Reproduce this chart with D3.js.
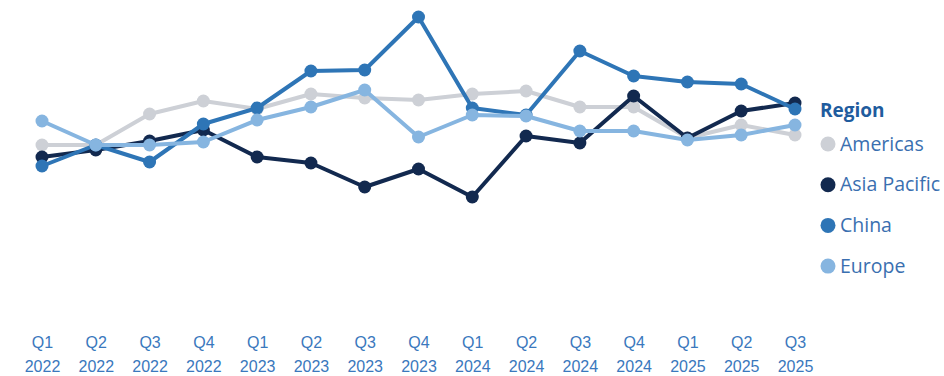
<!DOCTYPE html>
<html><head><meta charset="utf-8">
<script src="https://cdn.jsdelivr.net/npm/d3@7"></script>
<style>body{margin:0;background:#fff;} svg{display:block;font-family:"Open Sans","Noto Sans",sans-serif;}</style>
</head><body>
<svg id="c" width="944" height="376"></svg>
<script>
const quarters = ["Q1","Q2","Q3","Q4","Q1","Q2","Q3","Q4","Q1","Q2","Q3","Q4","Q1","Q2","Q3"];
const years = ["2022","2022","2022","2022","2023","2023","2023","2023","2024","2024","2024","2024","2025","2025","2025"];
const regions = ["Americas","Asia Pacific","China","Europe"];
const americas = [155,155,186,199,191,206,202,200,206,209,193,193,162,175,165];
const asiaPacific = [143,150,159,170,143,137,113,131,103,164,157,204,162,189,197];
const china = [134,155,138,176,192,229,230,283,192,185,249,224,218,216,191];
const europe = [179,155,155,158,180,193,210,163,185,184,169,169,160,165,175];
const seriesValues = [americas, asiaPacific, china, europe];
const colors = ["#cdd0d6","#12294f","#2e75b6","#86b5e0"];

const svg = d3.select("#c");
const cats = quarters.map((q,i)=>q+" "+years[i]);
const x = d3.scalePoint().domain(cats).range([42,795]);
const y = d3.scaleLinear().domain([0,300]).range([300,0]);

const line = d3.line().x((d,i)=>x(cats[i])).y(d=>y(d));
seriesValues.forEach((vals,s)=>{
  const g = svg.append("g");
  g.append("path").datum(vals).attr("d",line).attr("fill","none")
    .attr("stroke",colors[s]).attr("stroke-width",4).attr("stroke-linejoin","round");
  g.selectAll("circle").data(vals).join("circle")
    .attr("cx",(d,i)=>x(cats[i])).attr("cy",d=>y(d)).attr("r",6.5).attr("fill",colors[s]);
});

// x axis labels
const xa = d3.axisBottom(x).tickSize(0).tickFormat("");
const axg = svg.append("g").attr("transform","translate(0,330)").call(xa);
axg.select(".domain").remove();
axg.selectAll(".tick").each(function(d,i){
  const t = d3.select(this).append("text").attr("text-anchor","middle")
    .attr("fill","#3a78bd").style("font-size","16px");
  t.append("tspan").attr("x",0).attr("y",18).text(quarters[i]);
  t.append("tspan").attr("x",0).attr("y",42).text(years[i]);
});

// legend
const lg = svg.append("g");
lg.append("text").attr("x",820).attr("y",117).text("Region")
  .attr("fill","#1f5c9e").style("font-size","19px").style("font-weight","bold");
regions.forEach((r,i)=>{
  const yy = 144 + i*40.7;
  lg.append("circle").attr("cx",828).attr("cy",yy).attr("r",7.5).attr("fill",colors[i]);
  lg.append("text").attr("x",840).attr("y",yy+6.5).text(r)
    .attr("fill","#3a6fb0").style("font-size","19.5px");
});
</script>
</body></html>
